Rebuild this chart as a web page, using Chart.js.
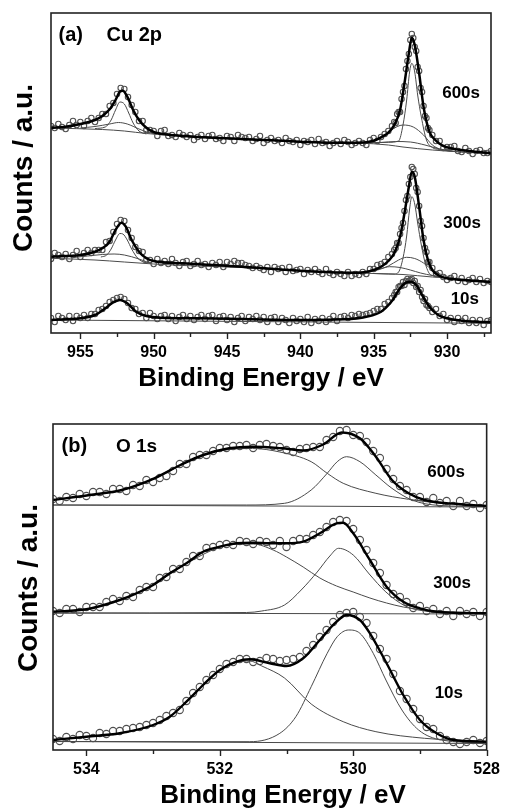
<!DOCTYPE html>
<html>
<head>
<meta charset="utf-8">
<script src="https://cdn.jsdelivr.net/npm/chart.js@4.4.1/dist/chart.umd.min.js"></script>
<style>
  body { margin: 0; background: #fff; }
  canvas { position: absolute; left: 0; }
</style>
</head>
<body>
<canvas id="cu" width="510" height="400" style="top:0"></canvas>
<canvas id="oxy" width="510" height="411" style="top:400px"></canvas>
<script>
// ---- tick labels ----
const cuMajor = [955, 950, 945, 940, 935, 930];
const cuMinor = [952.5, 947.5, 942.5, 937.5, 932.5, 927.5];
const oMajor = [534, 532, 530, 528];
const oMinor = [533, 531, 529];

// ---- measured points (counts, a.u., offset per etching time) ----
// Cu 2p sampling: 0.25 eV, 0.1 eV across the 2p3/2 peak
const cuParts = [[957, 933.75, 0.25], [933.6, 931.2, 0.1], [931, 927, 0.25]];
const oParts = [[534.5, 528, 0.1]];

const cu600 = [207,205,209,206,204,208,212,208,211,207,212,215,211,215,219,219,227,230,239,245,
  244,236,228,221,212,212,203,203,202,197,202,203,197,198,196,200,198,196,198,193,
  196,198,194,197,198,194,195,192,197,196,192,198,196,195,196,192,194,197,190,193,
  195,192,193,190,195,192,191,193,188,192,191,193,189,194,190,191,187,190,192,189,
  193,191,188,190,192,190,188,193,195,192,196,199,202,207,
  211,210,219,221,221,234,241,247,264,272,279,293,299,295,286,282,266,262,245,241,227,217,215,205,203,
  198,192,192,185,186,186,187,182,181,185,182,179,182,183,180,180,182];
const cu300 = [74,80,78,76,79,74,78,82,76,80,83,80,83,83,83,91,92,101,109,113,
  112,103,95,86,82,81,73,73,69,74,70,72,69,74,70,67,71,72,67,69,
  72,68,69,66,70,68,71,66,71,69,72,70,70,68,67,65,67,65,63,66,
  61,66,64,65,61,66,62,63,64,59,63,61,64,61,59,64,60,58,61,59,
  57,61,57,59,58,61,59,64,64,68,69,71,76,79,
  83,85,90,90,99,105,110,122,133,137,149,156,166,164,159,145,141,127,112,107,95,85,81,71,71,
  65,59,60,56,53,55,57,52,55,51,53,55,51,54,50,52,51];
const cu10 = [15,11,17,15,13,17,12,17,15,18,15,19,19,23,24,27,31,33,35,36,
  34,30,25,24,19,20,15,20,17,14,17,18,14,17,12,16,18,14,17,13,
  16,18,14,17,18,12,16,17,13,16,11,15,17,12,16,14,17,13,16,11,
  15,16,11,15,13,10,15,12,14,11,16,10,14,12,15,11,14,17,12,16,
  17,15,18,17,19,18,19,20,22,24,24,29,31,35,
  38,41,41,46,47,47,51,48,52,54,52,53,54,50,52,46,47,41,43,36,32,34,28,27,25,
  21,24,17,19,13,15,11,15,12,15,10,13,10,13,8,12,13];

const o600 = [251,249,253,252,256,254,258,258,256,261,261,259,265,264,270,268,272,274,279,286,
  286,293,295,295,299,302,302,304,304,305,302,305,306,304,303,300,298,301,302,303,
  303,310,313,319,320,315,314,308,299,292,281,271,264,260,253,253,248,252,247,249,
  244,249,244,246,242,245];
const o300 = [139,137,141,141,138,143,143,143,148,151,149,154,153,160,163,163,172,173,181,181,
  188,194,194,202,203,205,206,205,209,208,206,209,208,205,209,203,209,211,211,215,
  218,223,228,230,229,221,210,200,187,177,165,156,153,148,142,144,139,141,136,139,
  134,139,136,138,134,138];
const o10 = [11,9,13,11,15,14,12,17,16,19,19,21,22,23,25,27,30,34,37,40,
  49,57,63,70,75,81,86,88,91,91,88,89,92,91,89,90,91,93,99,105,
  113,120,128,135,137,138,133,127,114,101,91,76,59,51,41,31,23,21,14,10,
  8,6,8,10,7,9];

// ---- fitted envelopes [eV, counts] ----
const cuFit600 = [[957,205.3],[956,206.3],[955,209],[954,213],[953.5,217],[953,223.7],[952.6,233],[952.3,241.3],[952.1,242.3],[951.8,236.3],[951.4,223],[951,213],[950.5,205.3],[950,201],[949,198.3],[948,197],[946,195.3],[944,194],[942,192.7],[940,191.3],[938,190.3],[936,190.3],[935,192.3],[934.5,195.7],[934,200.3],[933.6,208],[933.2,223],[932.9,249.7],[932.6,279.7],[932.4,295.3],[932.2,288],[931.9,259.7],[931.6,226.3],[931.2,201.3],[930.8,193],[930.3,187.3],[929.5,184],[928.5,182],[927,179.7]];
const cuFit300 = [[957,76.3],[955,78],[954,81.3],[953.5,84.7],[953,91.3],[952.6,103],[952.2,110.3],[951.9,106.3],[951.5,93],[951,81.3],[950.5,74.7],[950,72],[948,69.7],[946,68],[944,66.3],[942,64.3],[940,62.3],[938,60.7],[936,60.3],[935,63],[934.5,66.3],[934,72],[933.6,79.7],[933.2,96.3],[932.9,119.7],[932.6,146.3],[932.4,161.3],[932.2,156.3],[931.9,126.3],[931.6,93],[931.3,73],[931,63],[930.5,57],[930,54.7],[929,53],[928,52],[927,51]];
const cuFit10 = [[957,13],[955,14.7],[954,18],[953.3,24.7],[952.8,30.3],[952.3,33],[951.8,29.7],[951.2,21.3],[950.5,17],[949.5,15.3],[947,14.7],[944,14],[940,13],[937,13.7],[935.5,16.3],[934.5,21.3],[933.8,31.3],[933.2,44.7],[932.8,50.3],[932.5,51.3],[932.1,48],[931.7,38],[931.2,26.3],[930.6,18],[930,14.7],[929,12.3],[928,11.3],[927,10.7]];

const oFit600 = [[534.5,250],[533.95,255],[533.47,260],[532.98,271.7],[532.59,285],[532.25,295],[531.86,301.7],[531.51,303.3],[531.07,301.7],[530.75,299.5],[530.45,305.5],[530.17,317.5],[529.9,311.7],[529.66,293.3],[529.42,270],[529.17,256.7],[528.93,250],[528.44,246],[528,244]];
const oFit300 = [[534.5,138.3],[534,140.7],[533.5,150],[533.25,156.7],[533,165],[532.75,176.7],[532.5,186.7],[532.25,198.3],[532,203.3],[531.75,206.7],[531.5,207.3],[531.25,206.7],[531,206.7],[530.75,208.3],[530.5,216.7],[530.25,226.7],[530.15,227.3],[530,216.7],[529.75,190],[529.5,163.3],[529.25,148.3],[529,141.7],[528.75,138.3],[528.5,137.3],[528,136.7]];
const oFit10 = [[534.5,10],[534,13.3],[533.5,16.7],[533,25],[532.75,33.3],[532.5,48.3],[532.25,65],[532,80],[531.75,88.3],[531.55,90.7],[531.25,86.7],[531,84],[530.75,91.7],[530.5,110],[530.25,128.3],[530.1,135],[529.9,130],[529.75,116.7],[529.5,86.7],[529.25,55],[529,30],[528.75,16.7],[528.5,10],[528,8.3]];

// ---- fit components and backgrounds [eV, counts] ----
const cuBase600 = [[957,205],[953.5,203.5],[952,202],[950.5,199.5],[949,198],[945,195],[940,191.3],[936,190],[934,188],[933,186],[931,183],[929,181],[927,179.5]];
const cuNarL600 = [[954,204.5],[953.3,206],[952.9,213],[952.6,223],[952.3,231],[952,229],[951.7,220],[951.4,210],[951,202],[950.5,199]];
const cuBroL600 = [[955,205],[954,206.5],[953,209],[952.4,210.5],[951.8,209],[951,204],[950.3,200]];
const cuNarR600 = [[935.5,190.3],[934,190.7],[933.3,192],[933,208],[932.75,233],[932.55,261],[932.4,269.7],[932.2,261],[932,238],[931.75,216],[931.4,193],[931,185.5],[930.5,183.5],[929,181],[927,179.5]];
const cuBroR600 = [[935.5,190],[934.5,195],[933.8,203],[933,208],[932.3,206],[931.6,198],[931,188],[930.5,184],[929.5,181.5]];
const cuLowR600 = [[935.5,190],[934.5,190.5],[933.5,191.5],[932.5,191],[931.5,188],[930.5,184],[929.5,181.5]];

const cuBase300 = [[957,74.7],[954,73],[952,71],[950,69],[948,67.5],[944,65.5],[940,62.3],[936,60],[934,59],[933,58.5],[931,56],[929,54],[927,51.5]];
const cuNarL300 = [[953.6,76],[953.2,78],[952.9,84],[952.6,93],[952.3,99.5],[952.1,99],[951.8,93],[951.5,84],[951.1,75],[950.6,70]];
const cuBroL300 = [[955.5,75.5],[954.5,77],[953.5,78.5],[952.7,79],[952,78],[951,74],[950.2,69.5]];
const cuNarR300 = [[935,59.5],[933.6,59],[933.3,61],[933,75],[932.75,97],[932.55,124],[932.4,136.3],[932.2,129],[932,110],[931.75,88],[931.45,68],[931.1,58],[930.5,56.5]];
const cuBroR300 = [[936.5,60],[935,62],[934,67],[933.3,73],[932.75,75.7],[932.2,74.5],[931.6,70],[931,63],[930.4,58.5],[929.5,55]];
const cuLowR300 = [[937,60.5],[935.5,61.5],[934.5,64.5],[933.9,66.3],[933.2,65.5],[932.5,63],[931.8,60],[931,57.5],[930.2,56]];

const cuBase10 = [[957,13],[927,9.7]];

const oHigh600 = [[534.5,250],[533.95,255],[533.47,259.7],[532.98,271.3],[532.59,284.5],[532.25,294.5],[531.86,300.5],[531.51,301.5],[531.1,298],[530.63,288.3],[530.39,276.7],[530.15,266.7],[529.66,256.7],[529.17,250.7],[528.68,246.7],[528,244]];
const oLow600 = [[534.5,245],[531.6,245],[531.03,246.7],[530.63,260],[530.39,276.7],[530.24,288.3],[530.1,293.3],[529.9,288.3],[529.66,275],[529.42,261.7],[529.12,250],[528.7,244.5],[528,243.5]];
const oBase600 = [[534.5,245],[528,243]];

const oHigh300 = [[534.5,138.3],[534,140.7],[533.5,150],[533,165],[532.5,186.5],[532,202.8],[531.75,205.8],[531.5,206],[531.2,200],[531,193],[530.75,183],[530.5,172],[530.25,164],[530,158],[529.75,152],[529.5,147],[529.25,143],[529,140.5],[528.75,139],[528.5,138],[528,137]];
const oLow300 = [[534.5,137],[531.6,137.5],[531.37,139],[531.03,145],[530.78,160],[530.54,178],[530.35,194],[530.22,201.7],[530,195],[529.76,176],[529.51,158],[529.22,144],[528.93,139],[528.5,136.8],[528,136.2]];
const oBase300 = [[534.5,137],[528,136]];

const oHigh10 = [[534.5,10],[534,13.3],[533.5,16.7],[533,25],[532.75,33.3],[532.5,48.3],[532.25,64.8],[532,79.5],[531.75,87.5],[531.55,89],[531.37,84],[531.03,72],[530.63,46],[530.15,28.3],[529.66,18.3],[528.93,11.7],[528,8.3]];
const oLow10 = [[534.5,8.5],[531.55,8.3],[531.1,16.7],[530.86,33.3],[530.63,63.3],[530.39,96.7],[530.24,113.3],[530.07,120],[529.9,116.7],[529.7,96.7],[529.51,70],[529.27,40],[529.02,20],[528.68,10],[528,7]];
const oBase10 = [[534.5,8.5],[528,6.5]];

// ---- helpers ----
function energies(parts) {
  let e = [];
  parts.forEach(([a, b, s]) => {
    let n = Math.round((a - b) / s);
    for (let i = 0; i <= n; i++) e.push(+(a - i * s).toFixed(2));
  });
  return e;
}
const cuE = energies(cuParts);
const oE = energies(oParts);

const asXY = arr => arr.map(([x, y]) => ({x, y}));

function spectrum(e, meas, fit, comps, r, fitW) {
  let sets = [
    {data: asXY(fit), showLine: true, pointRadius: 0, borderColor: '#000', borderWidth: fitW,
     cubicInterpolationMode: 'monotone', order: 0},
    {data: meas.map((v, i) => ({x: e[i], y: v})), showLine: false, pointRadius: r,
     pointBorderColor: '#4f4f4f', pointBackgroundColor: 'rgba(0,0,0,0)', pointBorderWidth: 1.1, order: 1}
  ];
  comps.forEach(c => sets.push({data: asXY(c), showLine: true, pointRadius: 0, borderColor: '#4a4a4a',
    borderWidth: 1, cubicInterpolationMode: 'monotone', order: 2}));
  return sets;
}

const FONT = '"Liberation Sans", Arial, sans-serif';

const deco = {
  id: 'deco',
  afterDraw(chart, args, o) {
    const ctx = chart.ctx, a = chart.chartArea, x = chart.scales.x;
    ctx.save();
    ctx.strokeStyle = '#222';
    ctx.lineWidth = 1.6;
    ctx.strokeRect(a.left, a.top, a.right - a.left, a.bottom - a.top);
    ctx.lineWidth = 1.4;
    const tick = (v, len) => {
      let px = Math.round(x.getPixelForValue(v)) + 0.5;
      ctx.beginPath(); ctx.moveTo(px, a.bottom); ctx.lineTo(px, a.bottom + len); ctx.stroke();
    };
    o.major.forEach(v => tick(v, 6));
    o.minor.forEach(v => tick(v, 4));
    ctx.fillStyle = '#000';
    o.labels.forEach(l => {
      ctx.font = 'bold ' + l.size + 'px ' + FONT;
      ctx.textAlign = l.align || 'left';
      ctx.fillText(l.text, l.x, l.y);
    });
    ctx.font = 'bold 26px ' + FONT;
    ctx.textAlign = 'center';
    ctx.fillText('Binding Energy / eV', o.xTitle[0], o.xTitle[1]);
    ctx.translate(o.yTitle[0], o.yTitle[1]);
    ctx.rotate(-Math.PI / 2);
    ctx.font = 'bold 28px ' + FONT;
    ctx.fillText('Counts / a.u.', 0, 0);
    ctx.restore();
  }
};

function makeChart(id, sets, xr, ymax, major, minor, pad, xh, deco_opts) {
  return new Chart(document.getElementById(id), {
    type: 'scatter',
    data: {datasets: sets},
    options: {
      responsive: false, animation: false, devicePixelRatio: 1, events: [],
      layout: {padding: pad},
      plugins: {legend: {display: false}, tooltip: {enabled: false}, deco: deco_opts},
      scales: {
        x: {
          type: 'linear', min: xr[0], max: xr[1], reverse: true,
          grid: {display: false, drawTicks: false}, border: {display: false},
          afterBuildTicks: s => { s.ticks = major.map(v => ({value: v})); },
          afterFit: s => { s.height = xh; },
          ticks: {color: '#000', padding: 10, autoSkip: false, maxRotation: 0,
                  font: {family: FONT, size: 16, weight: 'bold'}}
        },
        y: {display: false, min: 0, max: ymax}
      }
    },
    plugins: [deco]
  });
}

makeChart('cu', [
    ...spectrum(cuE, cu600, cuFit600, [cuBase600, cuNarL600, cuBroL600, cuNarR600, cuBroR600, cuLowR600], 2.7, 2.5),
    ...spectrum(cuE, cu300, cuFit300, [cuBase300, cuNarL300, cuBroL300, cuNarR300, cuBroR300, cuLowR300], 2.7, 2.5),
    ...spectrum(cuE, cu10, cuFit10, [cuBase10], 2.7, 2.5)
  ], [927, 957], 320, cuMajor, cuMinor, {left: 51, right: 19, top: 13, bottom: 0}, 67,
  {major: cuMajor, minor: cuMinor, xTitle: [261, 386], yTitle: [32, 168],
   labels: [
     {text: '(a)', x: 58.5, y: 41, size: 20},
     {text: 'Cu 2p', x: 106.5, y: 41, size: 20},
     {text: '600s', x: 480, y: 98, size: 17, align: 'right'},
     {text: '300s', x: 481, y: 228, size: 17, align: 'right'},
     {text: '10s', x: 479, y: 304, size: 17, align: 'right'}
   ]});

makeChart('oxy', [
    ...spectrum(oE, o600, oFit600, [oBase600, oHigh600, oLow600], 3.6, 2.4),
    ...spectrum(oE, o300, oFit300, [oBase300, oHigh300, oLow300], 3.6, 2.4),
    ...spectrum(oE, o10, oFit10, [oBase10, oHigh10, oLow10], 3.6, 2.4)
  ], [528, 534.5], 326, oMajor, oMinor, {left: 53, right: 14, top: 24, bottom: 0}, 61,
  {major: oMajor, minor: oMinor, xTitle: [283, 403], yTitle: [37, 188],
   labels: [
     {text: '(b)', x: 61.5, y: 52, size: 20},
     {text: 'O 1s', x: 116, y: 52, size: 19},
     {text: '600s', x: 465, y: 77, size: 17, align: 'right'},
     {text: '300s', x: 471, y: 188, size: 17, align: 'right'},
     {text: '10s', x: 463, y: 298, size: 17, align: 'right'}
   ]});
</script>
</body>
</html>
